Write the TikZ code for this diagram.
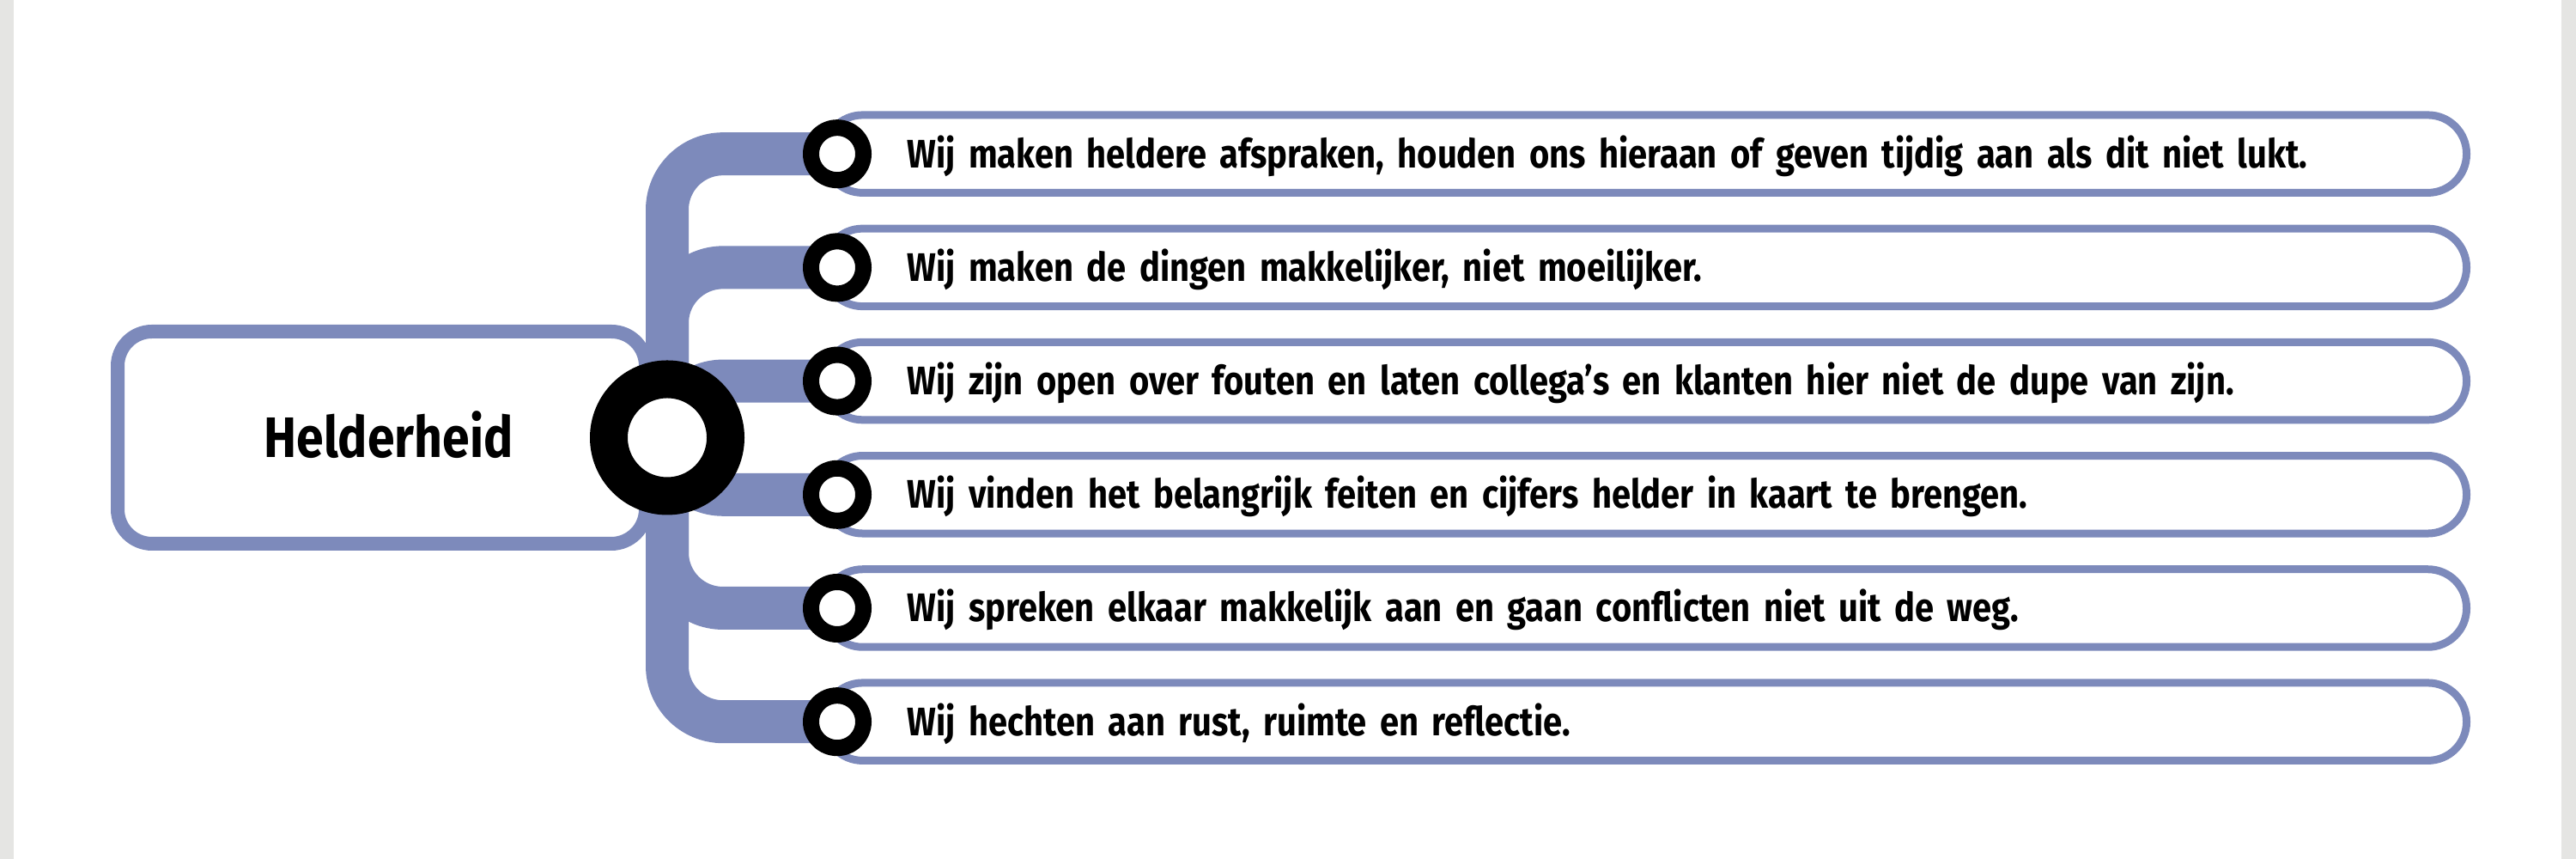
\documentclass[tikz,border=0pt]{standalone}
\usepackage{fontspec}
\setmainfont{Fira Sans}[FakeStretch=0.86]
\definecolor{lineblue}{RGB}{125,138,187}
\definecolor{sidegray}{RGB}{229,229,227}
\tikzset{
  valuebox/.style={draw=lineblue,line width=0.16cm,fill=white,rounded corners=0.4cm,
    minimum width=6.15cm,minimum height=2.47cm,inner sep=0pt},
  valuetext/.style={font=\bfseries\fontsize{18.9pt}{21pt}\selectfont,inner sep=0pt},
  pill/.style={draw=lineblue,line width=0.09cm,fill=white,rounded corners=0.45cm,anchor=west,
    minimum width=19.13cm,minimum height=0.905cm,text width=17.19cm,inner xsep=0.97cm,
    inner ysep=0pt,align=left,text height=0.32cm,text depth=0pt,
    font=\bfseries\fontsize{13.2pt}{15pt}\selectfont},
  branch/.style={draw=lineblue,line width=0.5cm,rounded corners=0.65cm},
  dot/.style={circle,draw=black,line width=0.19cm,fill=white,minimum size=0.61cm,inner sep=0pt},
  hubring/.style={circle,draw=black,line width=0.44cm,fill=white,minimum size=1.36cm,inner sep=0pt}
}
\begin{document}
\begin{tikzpicture}
  \useasboundingbox (0,0) rectangle (30,10);
  \fill[sidegray] (0,0) rectangle (0.16,10);
  \fill[sidegray] (29.83,0) rectangle (30,10);

  \coordinate (hub) at (7.77,4.905);
  \node[valuebox] (value) at (4.445,4.905) {};
  \node[valuetext] (valuename) at (4.525,4.94) {Helderheid};

  % statements
  \node[pill] (p1) at (9.55,8.208) {Wij maken heldere afspraken, houden ons hieraan of geven tijdig aan als dit niet lukt.};
  \node[pill] (p2) at (9.55,6.886) {Wij maken de dingen makkelijker, niet moeilijker.};
  \node[pill] (p3) at (9.55,5.564) {Wij zijn open over fouten en laten collega’s en klanten hier niet de dupe van zijn.};
  \node[pill] (p4) at (9.55,4.242) {Wij vinden het belangrijk feiten en cijfers helder in kaart te brengen.};
  \node[pill] (p5) at (9.55,2.920) {Wij spreken elkaar makkelijk aan en gaan conflicten niet uit de weg.};
  \node[pill] (p6) at (9.55,1.598) {Wij hechten aan rust, ruimte en reflectie.};

  \draw[branch] (hub) |- (p1.west);
  \draw[branch] (hub) |- (p2.west);
  \draw[branch] (hub) |- (p3.west);
  \draw[branch] (hub) |- (p4.west);
  \draw[branch] (hub) |- (p5.west);
  \draw[branch] (hub) |- (p6.west);

  \node[dot] (d1) at ([xshift=0.2cm]p1.west) {};
  \node[dot] (d2) at ([xshift=0.2cm]p2.west) {};
  \node[dot] (d3) at ([xshift=0.2cm]p3.west) {};
  \node[dot] (d4) at ([xshift=0.2cm]p4.west) {};
  \node[dot] (d5) at ([xshift=0.2cm]p5.west) {};
  \node[dot] (d6) at ([xshift=0.2cm]p6.west) {};

  \node[hubring] (ring) at (hub) {};
\end{tikzpicture}
\end{document}
